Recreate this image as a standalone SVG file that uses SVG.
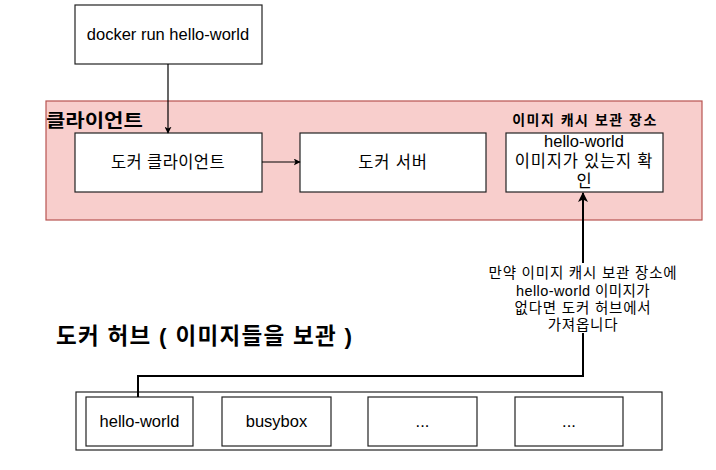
<svg xmlns="http://www.w3.org/2000/svg" width="716" height="470" viewBox="0 0 716 470">
<defs>
<style>
.box{fill:#fff;stroke:#222;stroke-width:1.2}
.t{font-family:"Liberation Sans","Noto Sans CJK KR",sans-serif;fill:#000;text-anchor:middle}
.b{font-family:"Liberation Sans","Noto Sans CJK KR",sans-serif;fill:#000;font-weight:bold}
.ko{letter-spacing:0.8px}
.ln{fill:none;stroke:#000;stroke-width:1.2}
.lnb{fill:none;stroke:#000;stroke-width:2}
</style>
<marker id="ah" viewBox="0 0 10 10" refX="9" refY="5" markerWidth="7" markerHeight="7" orient="auto" markerUnits="userSpaceOnUse"><path d="M0,0 L10,5 L0,10 L2.5,5 Z" fill="#000"/></marker>
<marker id="ahb" viewBox="0 0 10 10" refX="9" refY="5" markerWidth="10" markerHeight="10" orient="auto" markerUnits="userSpaceOnUse"><path d="M0,0 L10,5 L0,10 L2.5,5 Z" fill="#000"/></marker>
</defs>
<rect width="716" height="470" fill="#fff"/>
<g id="client-area">
<rect x="46" y="101" width="656" height="119" fill="#f8cecc" stroke="#b85450" stroke-width="1.2"/>
<text class="b" transform="translate(46,127) scale(1.17,1)" x="0" y="0" font-size="18">클라이언트</text>
</g>
<g id="cmd">
<rect class="box" x="75" y="5" width="187" height="59"/>
<text class="t" x="168" y="40" font-size="16.5">docker run hello-world</text>
</g>
<g id="docker-client">
<rect class="box" x="75" y="133" width="187" height="59"/>
<text class="t" x="168" y="168" font-size="16.5" style="letter-spacing:0.4px">도커 클라이언트</text>
</g>
<g id="docker-server">
<rect class="box" x="300" y="133" width="186" height="59"/>
<text class="t" x="393" y="168" font-size="16.5" style="letter-spacing:0.8px">도커 서버</text>
</g>
<g id="cache">
<text class="b" x="585" y="125" font-size="14" text-anchor="middle" style="letter-spacing:1.5px">이미지 캐시 보관 장소</text>
<rect class="box" x="506" y="133" width="157" height="59"/>
<text class="t" font-size="16.5"><tspan x="584" y="147">hello-world</tspan><tspan class="ko" x="584" y="167">이미지가 있는지 확</tspan><tspan x="584" y="187">인</tspan></text>
</g>
<g id="hub-title">
<text class="b" x="56" y="344" font-size="22.5" style="letter-spacing:1.3px">도커 허브 ( 이미지들을 보관 )</text>
</g>
<g id="hub">
<rect class="box" x="76" y="392" width="586" height="58"/>
</g>
<g id="img-hello">
<rect class="box" x="86" y="397" width="107" height="49"/>
<text class="t" x="139.5" y="427" font-size="16.5">hello-world</text>
</g>
<g id="img-busybox">
<rect class="box" x="222" y="397" width="109" height="49"/>
<text class="t" x="276.5" y="427" font-size="16.5">busybox</text>
</g>
<g id="img-more1">
<rect class="box" x="368" y="397" width="109" height="49"/>
<text class="t" x="422.5" y="427" font-size="16.5">...</text>
</g>
<g id="img-more2">
<rect class="box" x="515" y="397" width="108" height="49"/>
<text class="t" x="569" y="427" font-size="16.5">...</text>
</g>
<g id="connectors">
<line class="ln" x1="168" y1="64" x2="168" y2="133" marker-end="url(#ah)"/>
<line class="ln" x1="262" y1="162" x2="300" y2="162" marker-end="url(#ah)"/>
<path class="lnb" d="M138,397 V376 H583 V193" marker-end="url(#ahb)"/>
<rect x="485" y="263" width="196" height="70" fill="#fff"/>
<text class="t" font-size="14.5"><tspan class="ko" x="583" y="278">만약 이미지 캐시 보관 장소에</tspan><tspan x="583" y="295.5" style="letter-spacing:0.4px">hello-world 이미지가</tspan><tspan class="ko" x="583" y="313">없다면 도커 허브에서</tspan><tspan class="ko" x="583" y="330">가져옵니다</tspan></text>
</g>
</svg>
